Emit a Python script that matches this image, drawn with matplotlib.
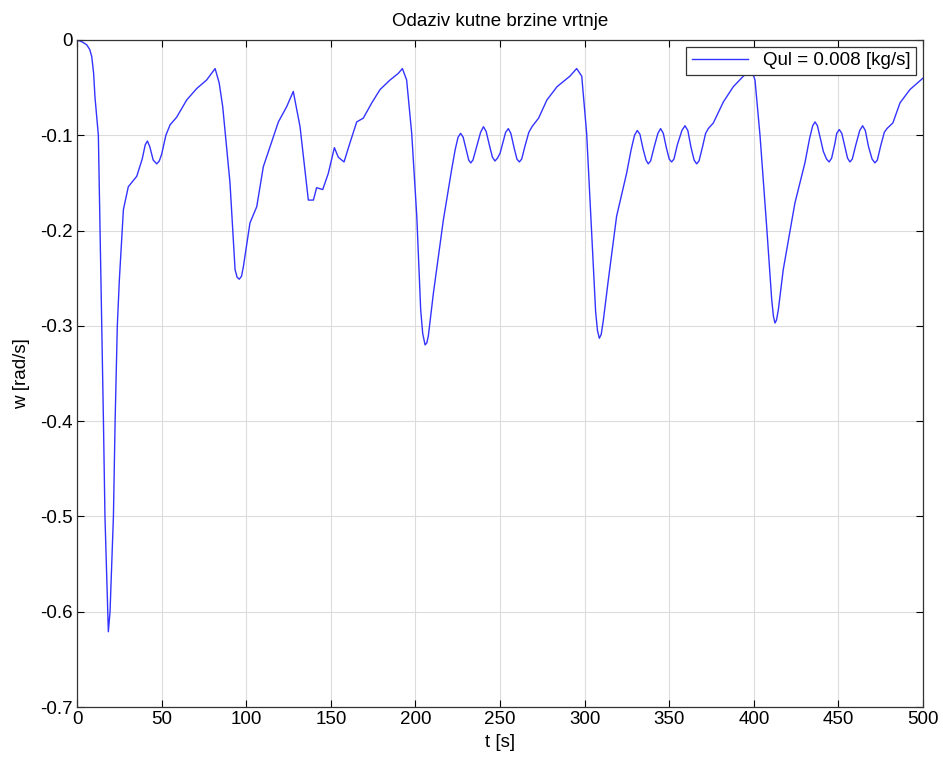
import matplotlib
matplotlib.use("Agg")
import matplotlib.pyplot as plt

plt.rcParams['font.family'] = ['Liberation Sans', 'DejaVu Sans']

t = [0, 3, 5.7, 7.5, 8.7, 9.8, 10.6, 11.6, 12.6, 14.6, 15.6, 16.5, 18.1, 18.5, 19.5, 21.5,
     22.5, 23.8, 25, 27.4, 30.3, 35.3, 38.5, 40.3, 41.6, 43, 45, 47.1, 48.6, 50, 52.5, 55,
     58.9, 64.8, 70.7, 76.6, 81.6, 84, 86.1, 90.4, 93.4, 94.6, 95.9, 97.2, 98.3, 102.2,
     106.2, 110.1, 114.1, 119, 123.9, 127.8, 131.8, 136.7, 139.7, 141.6, 145.2, 148.5,
     152.1, 154.4, 157.8, 161.3, 165.3, 169.2, 174.2, 179.1, 185, 189.9, 192.3, 194.8,
     197.8, 200.8, 203.1, 204.3, 205.7, 206.7, 207.6, 210.6, 216.5, 221.4,
     223.5, 225.2, 226.7, 228.2, 230, 231.5, 232.7, 234, 236, 238.5, 240.2, 241.8, 243.8,
     245.5, 247, 248.5, 250, 251.5, 253.3, 254.9, 256.4, 258.3, 260, 261.4, 262.8, 264.8,
     267, 268.9, 272.8, 277.7, 283.7, 291.3, 295.3, 298.3, 301.2, 304.2, 306.5, 307.6,
     308.7, 309.8, 311, 314, 318.9, 324.8,
     327.5, 329.5, 331.1, 332.7, 334.5, 336.3, 337.6, 339, 341, 343.3, 344.9, 346.5, 348.3,
     350, 351.4, 352.8, 354.8, 357.5, 359.3, 361, 362.8, 364.7, 366.2, 367.6, 369.7, 371.5,
     373.1, 376.1, 382, 387.9, 393.8, 398.5, 400.7, 403.7, 407.6, 410.6, 411.6, 412.5,
     413.4, 414.5, 417.4, 424.3, 430.2, 433, 434.8, 436.2, 437.6, 439.3, 441.1, 443, 444.5,
     446, 448, 449, 450.5, 452, 453.8, 455.4, 456.8, 458.2, 460.3, 462.6, 464.3, 465.9,
     467.8, 469.9, 471.6, 473, 475, 477.1, 478.7, 482.2, 486.4, 492.3, 500]
w = [0, -0.002, -0.005, -0.010, -0.0175, -0.035, -0.06, -0.08, -0.10, -0.30, -0.40, -0.50,
     -0.60, -0.621, -0.60, -0.50, -0.40, -0.30, -0.252, -0.178, -0.154, -0.143, -0.125,
     -0.110, -0.106, -0.112, -0.126, -0.130, -0.127, -0.120, -0.100, -0.089, -0.081,
     -0.063, -0.051, -0.042, -0.030, -0.045, -0.070, -0.150, -0.241, -0.249, -0.251,
     -0.248, -0.238, -0.192, -0.175, -0.133, -0.112, -0.086, -0.070, -0.054, -0.091,
     -0.168, -0.168, -0.155, -0.157, -0.140, -0.113, -0.123, -0.128, -0.108, -0.086,
     -0.082, -0.066, -0.052, -0.042, -0.035, -0.030, -0.042, -0.098, -0.185, -0.283,
     -0.308, -0.320, -0.318, -0.311, -0.266, -0.189, -0.136,
     -0.115, -0.102, -0.098, -0.102, -0.115, -0.126, -0.129, -0.126, -0.113, -0.097,
     -0.091, -0.096, -0.111, -0.123, -0.127, -0.124, -0.119, -0.109, -0.097, -0.093,
     -0.098, -0.113, -0.125, -0.128, -0.125, -0.111, -0.097, -0.091, -0.082, -0.063,
     -0.049, -0.038, -0.030, -0.038, -0.098, -0.203, -0.285, -0.305, -0.313, -0.309,
     -0.295, -0.252, -0.185, -0.140,
     -0.115, -0.100, -0.095, -0.099, -0.114, -0.126, -0.130, -0.127, -0.113, -0.098,
     -0.093, -0.098, -0.113, -0.125, -0.128, -0.125, -0.110, -0.095, -0.090, -0.095,
     -0.112, -0.126, -0.130, -0.127, -0.112, -0.098, -0.093, -0.087, -0.065, -0.049,
     -0.038, -0.031, -0.042, -0.101, -0.196, -0.273, -0.290, -0.297, -0.294, -0.283,
     -0.241, -0.171, -0.129, -0.103, -0.090, -0.086, -0.090, -0.103, -0.117, -0.125,
     -0.128, -0.124, -0.108, -0.098, -0.094, -0.098, -0.112, -0.124, -0.128, -0.125,
     -0.110, -0.095, -0.090, -0.095, -0.112, -0.125, -0.129, -0.126, -0.111, -0.097,
     -0.093, -0.087, -0.066, -0.052, -0.040]

x_ticks = [0, 50, 100, 150, 200, 250, 300, 350, 400, 450, 500]
y_ticks = [0, -0.1, -0.2, -0.3, -0.4, -0.5, -0.6, -0.7]
y_tick_labels = ['0', '-0.1', '-0.2', '-0.3', '-0.4', '-0.5', '-0.6', '-0.7']

fs = 13.5
fig = plt.figure(figsize=(9.43, 7.60), dpi=100)
ax = fig.add_axes([0.0817, 0.0697, 0.8971, 0.8777])
ax.plot(t, w, color='#3333ff', lw=1.0, label='Qul = 0.008 [kg/s]')
ax.set_xlim(0, 500)
ax.set_ylim(-0.7, 0)
ax.set_xticks(x_ticks)
ax.set_yticks(y_ticks)
ax.set_yticklabels(y_tick_labels)
ax.grid(True, color='#dcdcdc', lw=0.8, ls='-')
ax.tick_params(direction='in', top=True, right=True, labelsize=fs, length=5, width=0.8,
               pad=3)
for s in ax.spines.values():
    s.set_color('#333333')
    s.set_linewidth(0.9)
ax.set_title('Odaziv kutne brzine vrtnje', fontsize=fs, pad=10)
ax.set_xlabel('t [s]', fontsize=fs, labelpad=4)
ax.set_ylabel('w [rad/s]', fontsize=fs, labelpad=7)
leg = ax.legend(loc='upper right', fontsize=fs, fancybox=False, framealpha=1,
                handlelength=3.0, borderaxespad=0.35, borderpad=0.3)
leg.get_frame().set_edgecolor('#333333')
leg.get_frame().set_linewidth(0.9)
fig.savefig('out.png', dpi=100)
